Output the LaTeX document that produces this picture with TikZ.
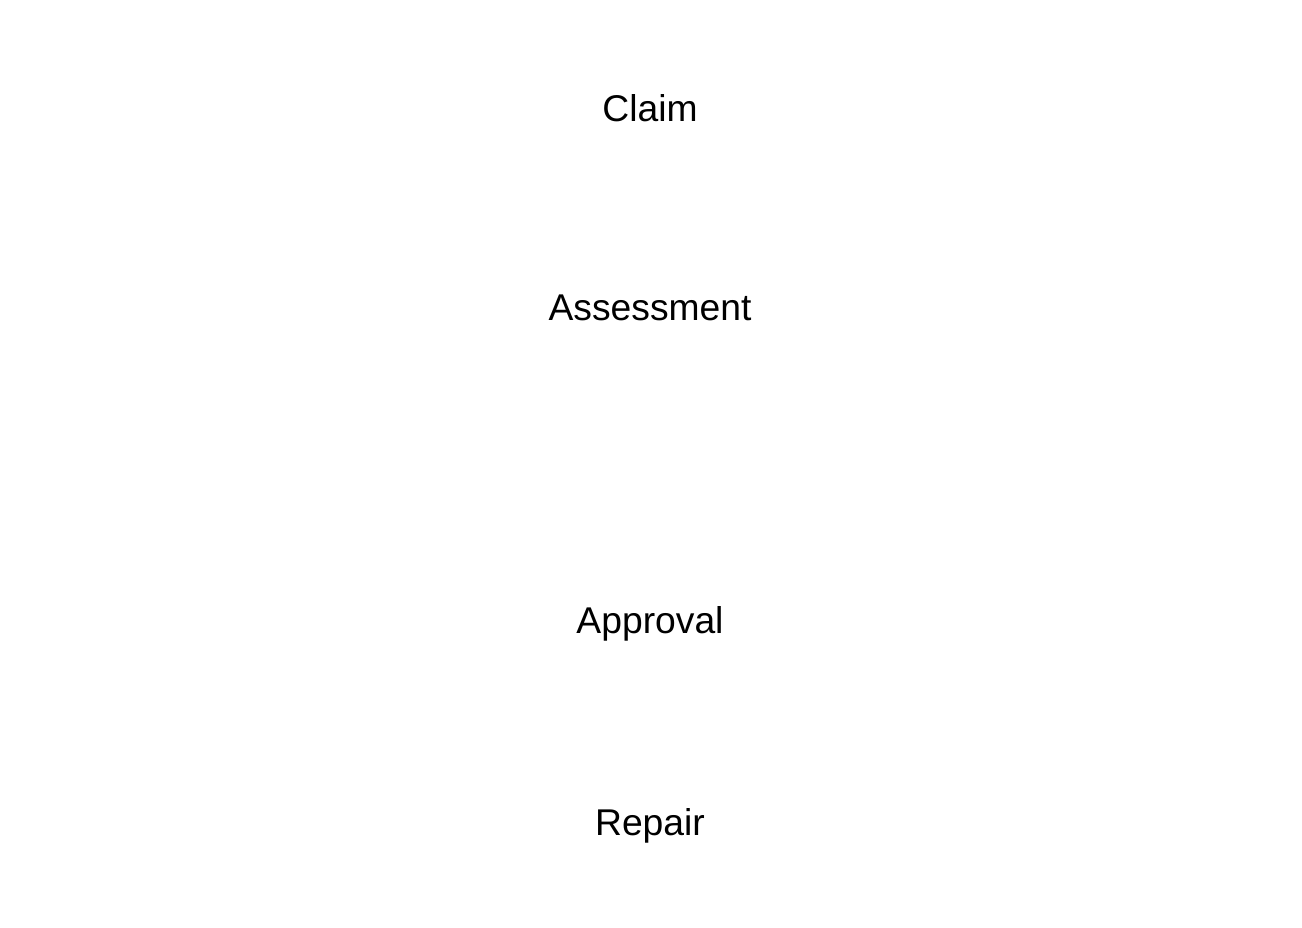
\documentclass[tikz,border=0pt]{standalone}
\usepackage{fontspec}
\setmainfont{Liberation Sans}
\usepackage{tikz}

\begin{document}
\begin{tikzpicture}[stage/.style={font=\fontsize{10.6}{12}\selectfont}]
  \useasboundingbox (0,0) rectangle (13.02,9.28);
  \node[stage] (claim) at (6.5,8.20) {Claim};
  \node[stage] (assess) at (6.5,6.20) {Assessment};
  \node[stage] (approve) at (6.5,3.04) {Approval};
  \node[stage] (repair) at (6.5,1.02) {Repair};
\end{tikzpicture}
\end{document}
